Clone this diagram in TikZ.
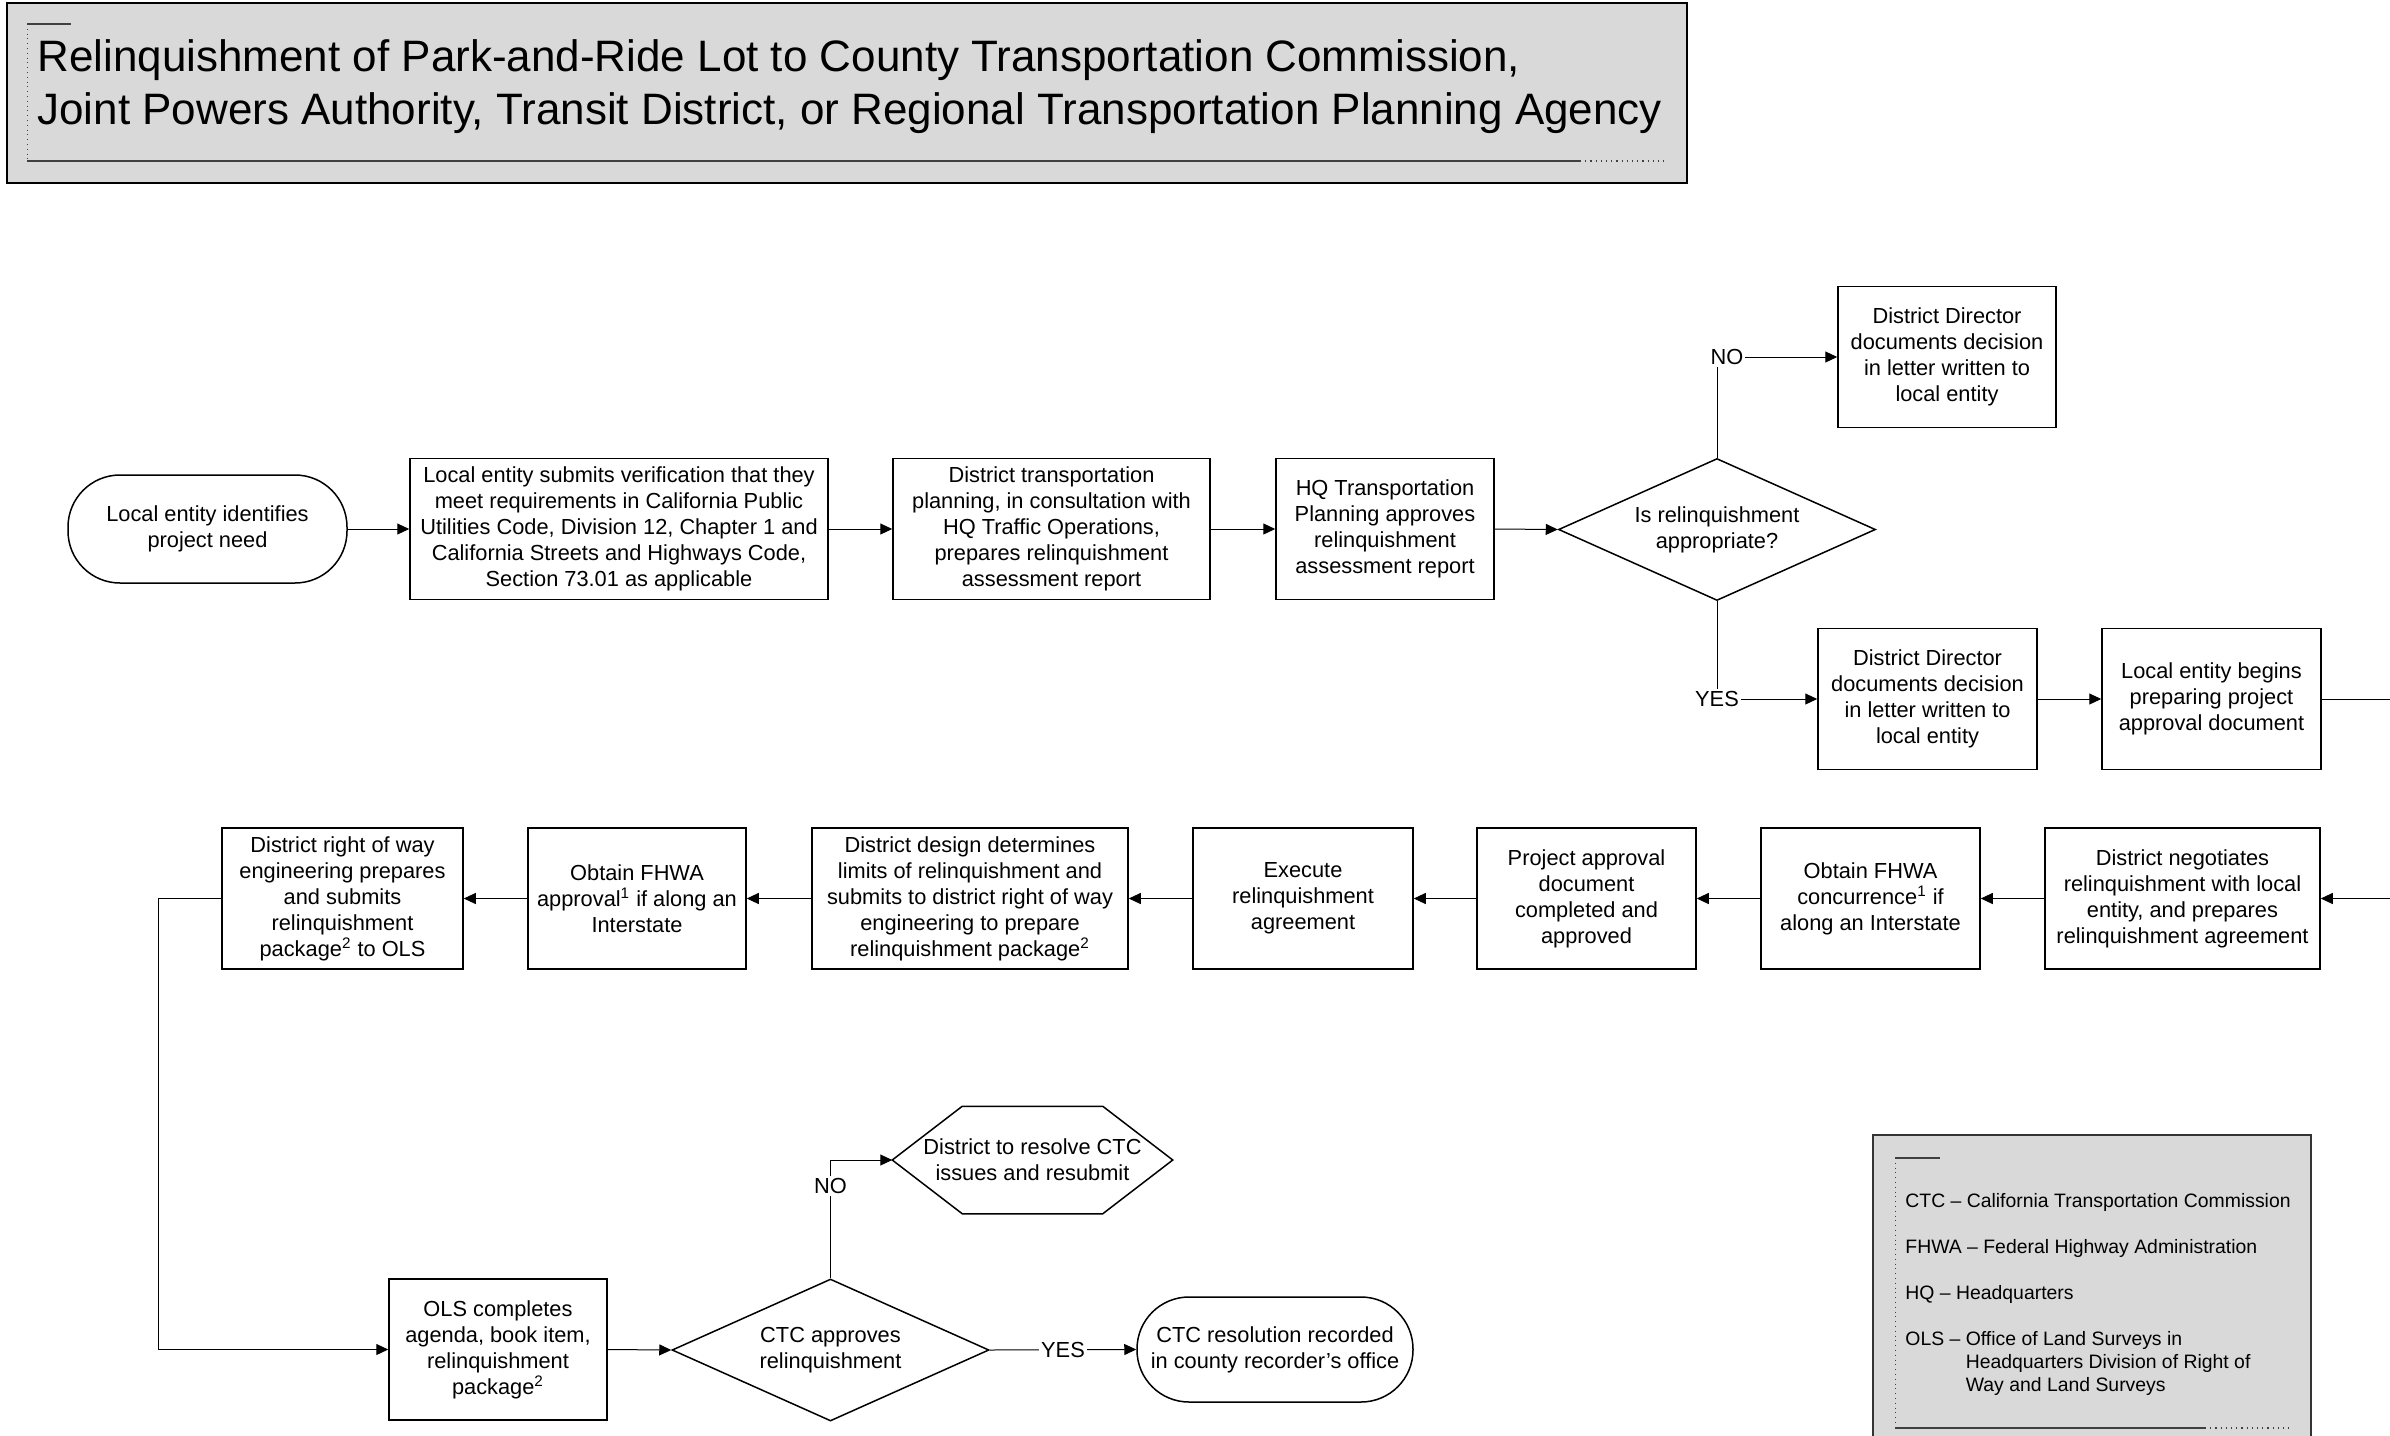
\documentclass[tikz,border=0pt]{standalone}
\usepackage{fontspec}
\setmainfont{Liberation Sans}
\usetikzlibrary{shapes.geometric,arrows.meta}
\definecolor{boxgray}{HTML}{D9D9D9}
\definecolor{rulegray}{HTML}{404040}

\begin{document}
\begin{tikzpicture}[x=0.5pt, y=-0.5pt,
	box/.style={draw, line width=0.75pt, align=center, inner sep=0pt, minimum width=109pt, minimum height=70.5pt, font=\fontsize{10.9}{13}\selectfont},
	term/.style={box, rounded corners=26pt, minimum height=53pt},
	dec/.style={box, diamond, aspect=2.2, minimum width=158.5pt, minimum height=71pt},
	lbl/.style={fill=white, inner sep=1pt, font=\fontsize{10.9}{13}\selectfont},
	wire/.style={line width=0.5pt},
	arr/.style={wire, -{Triangle[length=6pt,width=5.5pt]}}]
			\clip (0,0) rectangle (2390,1436);

			% title
			\draw[line width=1pt, fill=boxgray] (7,3) rectangle (1687,183);
			\draw[rulegray, line width=0.6pt] (27,24) -- (71,24);
			\draw[rulegray, dotted, line width=0.4pt] (27,24) -- (27,161);
			\draw[rulegray, line width=0.9pt] (27,161) -- (1580,161);
			\draw[rulegray, dotted, line width=0.6pt] (1580,161) -- (1668,161);
			\node[anchor=west, align=left, inner sep=0pt, font=\fontsize{22}{26.5}\selectfont] (title) at (37,87) {Relinquishment of Park-and-Ride Lot to County Transportation Commission,\\Joint Powers Authority, Transit District, or Regional Transportation Planning Agency};

			% first row
			\node[term, minimum width=139.5pt, minimum height=54pt] (need) at (207.5,529) {Local entity identifies\\project need};
			\node[box, minimum width=209pt] (verify) at (619,529) {Local entity submits verification that they\\meet requirements in California Public\\Utilities Code, Division 12, Chapter 1 and\\California Streets and Highways Code,\\Section 73.01 as applicable};
			\node[box, minimum width=158.5pt] (assess) at (1051.5,529) {District transportation\\planning, in consultation with\\HQ Traffic Operations,\\prepares relinquishment\\assessment report};
			\node[box] (hqok) at (1385,529) {HQ Transportation\\Planning approves\\relinquishment\\assessment report};
			\node[dec] (isok) at (1717,529.5) {Is relinquishment\\appropriate?};
			\node[box] (ddno) at (1947,357) {District Director\\documents decision\\in letter written to\\local entity};
			\node[box, minimum width=109.5pt] (ddyes) at (1927.5,699) {District Director\\documents decision\\in letter written to\\local entity};
			\node[box, minimum width=109.5pt] (padbegin) at (2211.5,699) {Local entity begins\\preparing project\\approval document};
			\coordinate (offpage) at (2440,699);

			\draw[arr] (need) -- (verify);
			\draw[arr] (verify) -- (assess);
			\draw[arr] (assess) -- (hqok);
			\draw[arr] (hqok.east) -- (isok.west);
			\draw[arr] (isok.north) |- node[lbl, pos=0.5, xshift=5pt] {NO} (ddno.west);
			\draw[arr] (isok.south) |- node[lbl, pos=0.5] {YES} (ddyes.west);
			\draw[arr] (ddyes) -- (padbegin);

			% second row, right to left
			\node[box, minimum width=137.5pt] (negotiate) at (2182.5,898.5) {District negotiates\\relinquishment with local\\entity, and prepares\\relinquishment agreement};
			\node[box, minimum width=109.5pt] (concur) at (1870.5,898.5) {Obtain FHWA\\concurrence\textsuperscript{1} if\\along an Interstate};
			\node[box, minimum width=109.5pt] (paddone) at (1586.5,898.5) {Project approval\\document\\completed and\\approved};
			\node[box, minimum width=110pt] (execute) at (1303,898.5) {Execute\\relinquishment\\agreement};
			\node[box, minimum width=158pt] (design) at (970,898.5) {District design determines\\limits of relinquishment and\\submits to district right of way\\engineering to prepare\\relinquishment package\textsuperscript{2}};
			\node[box] (approval) at (637,898.5) {Obtain FHWA\\approval\textsuperscript{1} if along an\\Interstate};
			\node[box, minimum width=120.5pt] (rwpkg) at (342.5,898.5) {District right of way\\engineering prepares\\and submits\\relinquishment\\package\textsuperscript{2} to OLS};

			\draw[arr] (padbegin.east) -- (offpage) |- (negotiate.east);
			\draw[arr] (negotiate) -- (concur);
			\draw[arr] (concur) -- (paddone);
			\draw[arr] (paddone) -- (execute);
			\draw[arr] (execute) -- (design);
			\draw[arr] (design) -- (approval);
			\draw[arr] (approval) -- (rwpkg);

			% third row
			\node[box] (ols) at (498,1349.5) {OLS completes\\agenda, book item,\\relinquishment\\package\textsuperscript{2}};
			\node[dec] (ctc) at (830.5,1350) {CTC approves\\relinquishment};
			\node[term, minimum width=138pt, minimum height=52.5pt] (record) at (1275,1349.5) {CTC resolution recorded\\in county recorder’s office};
			\node[box, draw=none, minimum width=139.5pt, minimum height=53pt] (resolve) at (1032.5,1160) {District to resolve CTC\\issues and resubmit};
			\draw[line width=0.75pt] (resolve.west) -- ([xshift=35pt]resolve.north west) -- ([xshift=-35pt]resolve.north east) -- (resolve.east) -- ([xshift=-35pt]resolve.south east) -- ([xshift=35pt]resolve.south west) -- cycle;

			\draw[arr] (rwpkg.west) -- ++(-63,0) |- (ols.west);
			\draw[arr] (ols.east) -- (ctc.west);
			\draw[arr] (ctc.east) -- node[lbl] {YES} (record.west);
			\draw[arr] (ctc.north) |- node[lbl, pos=0.39] {NO} (resolve.west);

			% abbreviations
			\draw[black!80, line width=0.9pt, fill=boxgray] (1873,1135) rectangle (2311,1470);
			\draw[rulegray, line width=0.6pt] (1895,1158) -- (1940,1158);
			\draw[rulegray, dotted, line width=0.4pt] (1895,1158) -- (1895,1428);
			\draw[rulegray, line width=0.8pt] (1895,1428) -- (2205,1428);
			\draw[rulegray, dotted, line width=0.6pt] (2205,1428) -- (2290,1428);
			\node[anchor=west, align=left, inner sep=0pt, font=\fontsize{9.7}{11.5}\selectfont] (abbrev) at (1905,1294) {CTC -- California Transportation Commission\\[11.5pt]FHWA -- Federal Highway Administration\\[11.5pt]HQ -- Headquarters\\[11.5pt]OLS -- Office of Land Surveys in\\\phantom{OLS -- }Headquarters Division of Right of\\\phantom{OLS -- }Way and Land Surveys};
\end{tikzpicture}
\end{document}
